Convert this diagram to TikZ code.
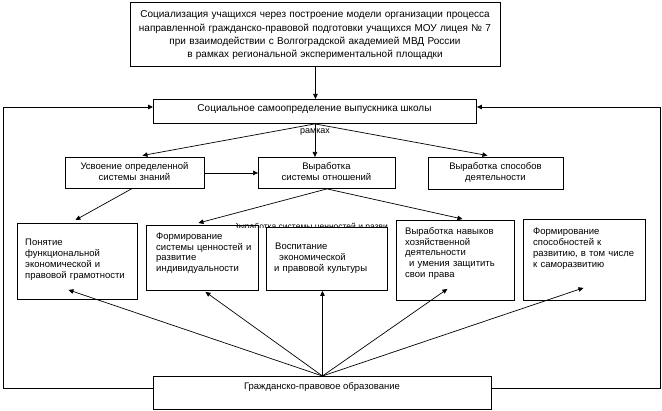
\documentclass[tikz,border=0pt]{standalone}
\usepackage{fontspec}
\setmainfont{Liberation Sans}
\usetikzlibrary{arrows.meta,calc}
\tikzset{
  box/.style={draw, line width=0.9pt, fill=white, inner sep=0pt, anchor=north west},
  arr/.style={-{Triangle[length=5pt,width=4.5pt]}, line width=0.7pt},
  loopline/.style={line width=0.9pt, -{Triangle[length=5pt,width=4.5pt]}},
  ctxt/.style={inner sep=0pt, anchor=base, align=center, font=\fontsize{9.5}{11}\selectfont},
  ltxt/.style={inner sep=0pt, anchor=base west, align=left, font=\fontsize{9.5}{10.7}\selectfont},
}
\begin{document}
\begin{tikzpicture}[x=1pt,y=-1pt]
\useasboundingbox (0,0) rectangle (662,411);
% boxes
\node[box, minimum width=370pt, minimum height=64pt] (top) at (130,2) {};
\node[box, minimum width=323pt, minimum height=24pt] (sec) at (153,99) {};
\node[box, minimum width=139pt, minimum height=31pt] (us) at (65,157) {};
\node[box, minimum width=137pt, minimum height=31pt] (vs) at (258,157) {};
\node[box, minimum width=135pt, minimum height=32pt] (vsp) at (428,157) {};
\node[box, minimum width=120pt, minimum height=76pt] (pon) at (17,223) {};
\node[box, minimum width=112pt, minimum height=65pt] (form) at (146,225) {};
\begin{scope}
\clip (236,215) rectangle (396,227.6);
\node[inner sep=0pt, anchor=base west, font=\fontsize{8.5}{9}\selectfont] (hid) at (233,230) {Выработка системы ценностей и разви};
\end{scope}
\node[box, minimum width=121pt, minimum height=63pt] (vos) at (266,227) {};
\node[box, minimum width=118pt, minimum height=80pt] (vn) at (396,220) {};
\node[box, minimum width=122pt, minimum height=81pt] (fs) at (523,219) {};
\node[box, minimum width=338pt, minimum height=33pt] (bot) at (153,376) {};

% texts
\node[ctxt, text width=365pt, font=\fontsize{10}{13.2}\selectfont] (ttop) at (315,18)
  {Социализация учащихся через построение модели организации процесса\\
   направленной гражданско-правовой подготовки учащихся МОУ лицея № 7\\
   при взаимодействии  с Волгоградской академией МВД России\\
   в рамках  региональной экспериментальной площадки};
\node[ctxt, font=\fontsize{10}{12}\selectfont] (tsec) at (314.5,112) {Социальное самоопределение выпускника школы};
\node[ctxt, text width=135pt] (tus) at (134.5,170) {Усвоение определенной\\системы знаний};
\node[ctxt, text width=135pt] (tvs) at (326.5,170) {Выработка\\системы отношений};
\node[ctxt, text width=130pt] (tvsp) at (495.5,170) {Выработка способов\\деятельности};
\node[ltxt, text width=110pt] (tpon) at (25,246) {Понятие\\функциональной\\экономической и\\правовой грамотности};
\node[ltxt, text width=100pt] (tform) at (156,239.5) {Формирование\\системы ценностей и\\развитие\\индивидуальности};
\node[ltxt, text width=110pt] (tvos) at (274,250) {\hspace*{1pt}Воспитание\\\hspace*{5pt}экономической\\и правовой культуры};
\node[ltxt, text width=108pt] (tvn) at (405,234.5) {Выработка навыков\\хозяйственной\\деятельности\\\hspace*{4pt}и умения защитить\\свои права};
\node[ltxt, text width=110pt] (tfs) at (533,235) {Формирование\\способностей к\\развитию, в том числе\\к саморазвитию};
\node[ctxt] (tbot) at (322,390) {Гражданско-правовое образование};

% connectors
\draw[arr] (top.south) -- (top.south |- sec.north);
\coordinate (ll) at (3,388);
\coordinate (lu) at (3,107);
\coordinate (rl) at (660,388);
\coordinate (ru) at (660,107);
\draw[loopline] (bot.west |- ll) -- (ll) -- (lu) -- (sec.west |- lu);
\draw[loopline] (bot.east |- rl) -- (rl) -- (ru) -- (sec.east |- ru);

\draw[arr] (sec.south) -- (sec.south |- vs.north);
\node[inner sep=0pt, anchor=base, font=\fontsize{9}{10}\selectfont] (ramk) at (315,133.5) {рамках};
\draw[arr] (sec.south) -- ($(us.north)+(7.5,-1.5)$);
\draw[arr] (sec.south) -- ($(vsp.north)+(-8.5,-1.5)$);
\draw[arr] (us.east) -- (vs.west);
\draw[arr] ($(us.south)+(-3.5,0)$) -- ($(pon.north)+(-2,-3)$);
\draw[arr] (vs.south) -- ($(form.north)+(-4,-2)$);
\draw[arr] (vs.south) -- ($(vn.north)+(7,-1)$);

\draw[arr] (bot.north) -- ($(pon.south)+(-9,-10)$);
\draw[arr] (bot.north) -- ($(form.south)+(3,1)$);
\draw[arr] (bot.north) -- (bot.north |- vos.south);
\draw[arr] (bot.north) -- ($(vn.south)+(-8,-12)$);
\draw[arr] (bot.north) -- ($(fs.south)+(-1,-13)$);
\end{tikzpicture}
\end{document}
